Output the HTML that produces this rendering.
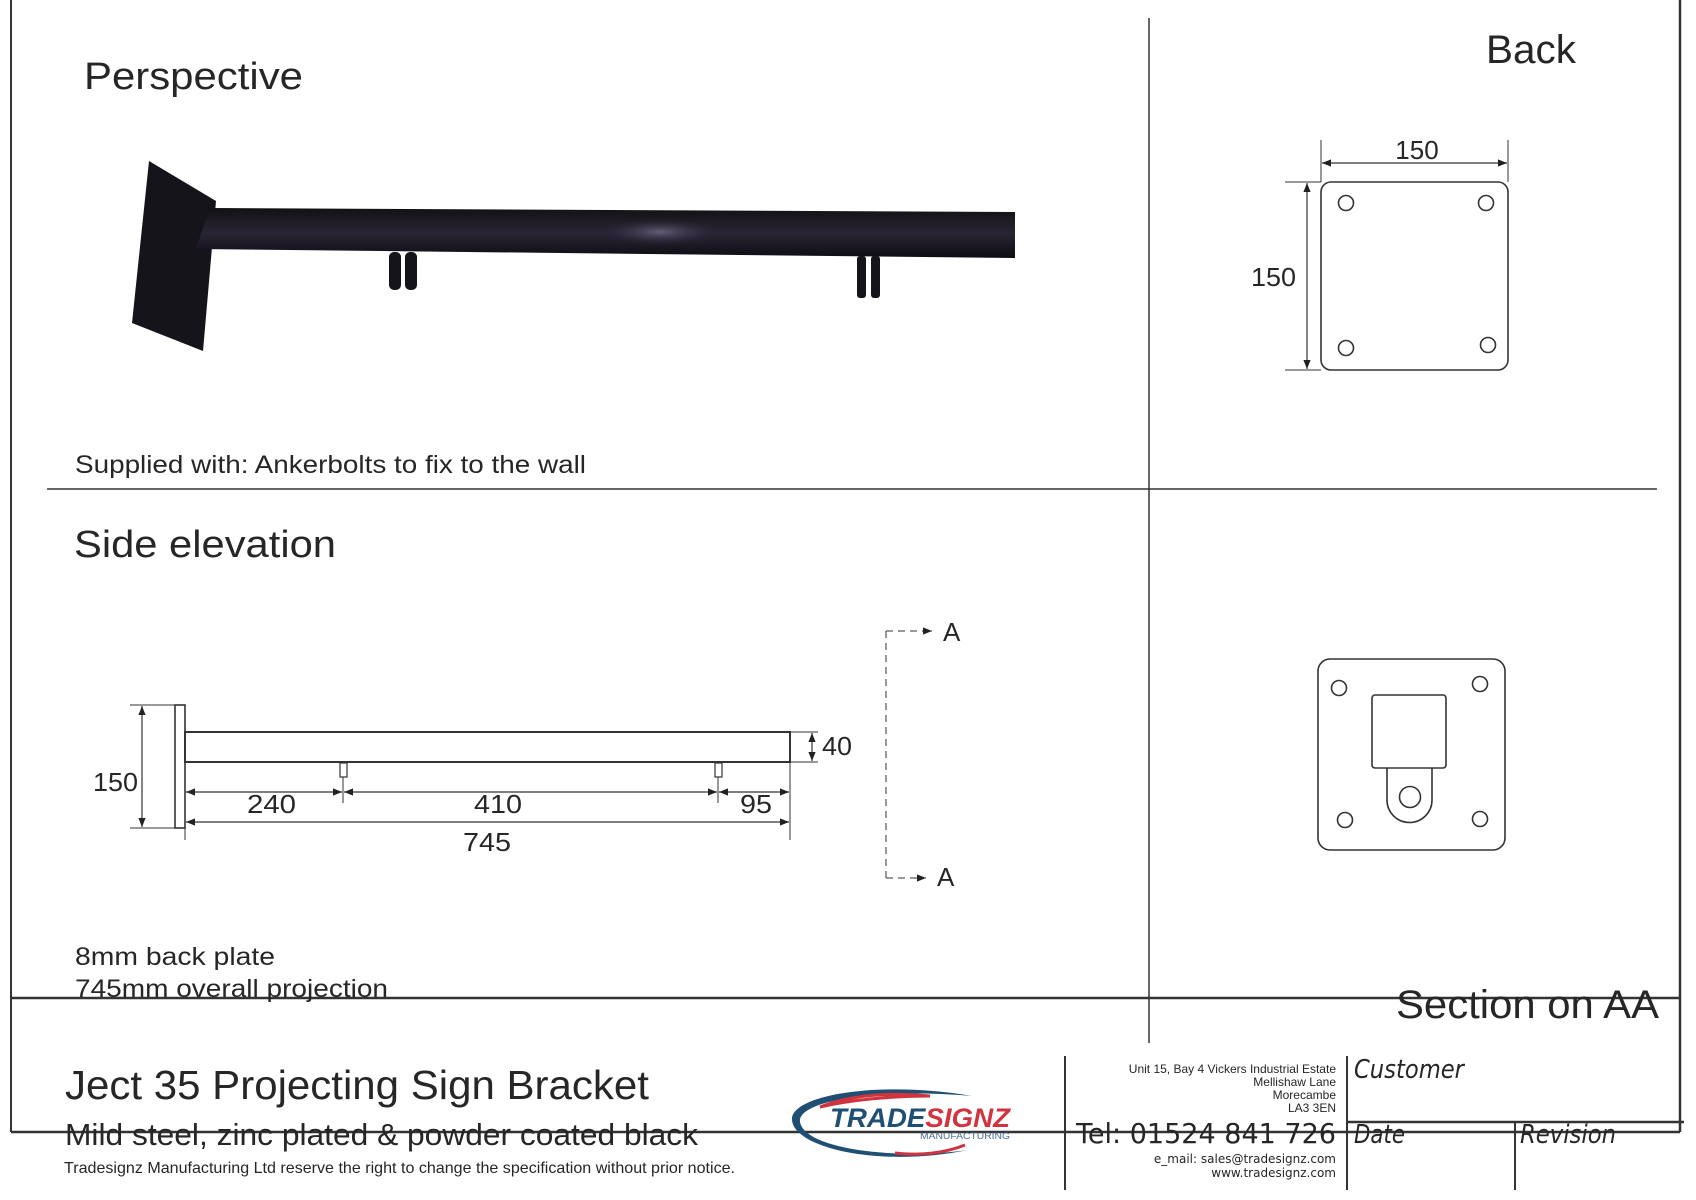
<!DOCTYPE html>
<html><head><meta charset="utf-8"><style>
html,body{margin:0;padding:0;background:#fff;}
svg{display:block;}
text{font-family:"Liberation Sans",Arial,sans-serif;fill:#262626;}
.dv{font-family:"DejaVu Sans",sans-serif;}
</style></head><body>
<svg width="1696" height="1200" viewBox="0 0 1696 1200" xmlns="http://www.w3.org/2000/svg">
<defs>
<marker id="ar" viewBox="0 0 10 10" refX="10" refY="5" markerWidth="9" markerHeight="9" orient="auto-start-reverse" markerUnits="userSpaceOnUse"><path d="M0,1 L10,5 L0,9 z" fill="#222"/></marker>
<linearGradient id="tg" x1="0" y1="0" x2="0" y2="1"><stop offset="0" stop-color="#111"/><stop offset="0.5" stop-color="#2a2535"/><stop offset="1" stop-color="#0d0c12"/></linearGradient>
<radialGradient id="hl" cx="0.5" cy="0.5" r="0.5"><stop offset="0" stop-color="#6a6580" stop-opacity="0.9"/><stop offset="1" stop-color="#2a2535" stop-opacity="0"/></radialGradient>
</defs>
<g stroke="#333" fill="none">
<!-- frame -->
<line x1="11" y1="0" x2="11" y2="1132" stroke-width="2"/>
<line x1="1680" y1="0" x2="1680" y2="1132" stroke-width="2.5"/>
<line x1="11" y1="1132" x2="1680" y2="1132" stroke-width="2.5"/>
<line x1="11" y1="998" x2="1680" y2="998" stroke-width="2.5"/>
<line x1="1149" y1="18" x2="1149" y2="1043" stroke-width="1.5"/>
<line x1="47" y1="489" x2="1657" y2="489" stroke-width="1.5"/>
<line x1="1065" y1="1056" x2="1065" y2="1190" stroke-width="2"/>
<line x1="1347" y1="1056" x2="1347" y2="1190" stroke-width="2"/>
<line x1="1347" y1="1122" x2="1684" y2="1122" stroke-width="2.5"/>
<line x1="1515" y1="1122" x2="1515" y2="1190" stroke-width="2"/>
</g>

<!-- Perspective photo -->
<polygon points="149,161 216,201 203,351 132,323" fill="#16141b"/>
<polygon points="210,208 1015,212 1015,258 196,249" fill="url(#tg)"/>
<ellipse cx="660" cy="232" rx="60" ry="14" fill="url(#hl)"/>
<g fill="#16141b">
<rect x="389" y="252" width="12" height="38" rx="5"/><rect x="405" y="252" width="12" height="38" rx="5"/>
<rect x="857" y="256" width="9" height="42" rx="3"/><rect x="871" y="256" width="9" height="42" rx="3"/>
</g>

<text x="84" y="89" font-size="38" textLength="219" lengthAdjust="spacingAndGlyphs">Perspective</text>
<text x="75" y="473" font-size="25" textLength="511" lengthAdjust="spacingAndGlyphs">Supplied with: Ankerbolts to fix to the wall</text>
<text x="74" y="557" font-size="38" textLength="262" lengthAdjust="spacingAndGlyphs">Side elevation</text>
<text x="1486" y="63" font-size="40" textLength="90" lengthAdjust="spacingAndGlyphs">Back</text>

<!-- Back view -->
<g stroke="#333" fill="none" stroke-width="1.6">
<rect x="1321" y="182" width="187" height="188" rx="10"/>
<circle cx="1346" cy="203" r="7.5"/><circle cx="1486" cy="203" r="7.5"/>
<circle cx="1346" cy="348" r="7.5"/><circle cx="1488" cy="345" r="7.5"/>
<g stroke-width="1">
<line x1="1321" y1="140" x2="1321" y2="182"/><line x1="1508" y1="140" x2="1508" y2="182"/>
<line x1="1285" y1="182" x2="1321" y2="182"/><line x1="1285" y1="370" x2="1321" y2="370"/>
</g>
<line x1="1322" y1="163" x2="1507" y2="163" stroke-width="1.2" marker-start="url(#ar)" marker-end="url(#ar)"/>
<line x1="1307" y1="183" x2="1307" y2="369" stroke-width="1.2" marker-start="url(#ar)" marker-end="url(#ar)"/>
</g>
<text x="1417" y="159" font-size="26" text-anchor="middle">150</text>
<text x="1251" y="286" font-size="26" textLength="45" lengthAdjust="spacingAndGlyphs">150</text>

<!-- Section AA -->
<g stroke="#333" fill="none" stroke-width="1.6">
<rect x="1318" y="659" width="187" height="191" rx="12"/>
<circle cx="1339" cy="688" r="7.5"/><circle cx="1480" cy="684" r="7.5"/>
<circle cx="1345" cy="820" r="7.5"/><circle cx="1480" cy="819" r="7.5"/>
<rect x="1372" y="695" width="74" height="73" rx="3"/>
<path d="M1387,768 L1387,800 A22.5,22.5 0 0 0 1432,800 L1432,768"/>
<circle cx="1410" cy="797" r="10.5"/>
</g>
<text x="1396" y="1018" font-size="40" textLength="263" lengthAdjust="spacingAndGlyphs">Section on AA</text>

<!-- Side elevation -->
<g stroke="#333" fill="none">
<rect x="175" y="705" width="10" height="123" stroke-width="1.6"/>
<rect x="185" y="732" width="605" height="30" stroke-width="2"/>
<rect x="340" y="763" width="7" height="14" stroke-width="1.2"/>
<rect x="715" y="763" width="7" height="14" stroke-width="1.2"/>
<g stroke-width="1">
<line x1="130" y1="705" x2="175" y2="705"/><line x1="130" y1="828" x2="175" y2="828"/>
<line x1="185" y1="828" x2="185" y2="840"/>
<line x1="343" y1="777" x2="343" y2="803"/><line x1="718" y1="777" x2="718" y2="803"/>
<line x1="790" y1="762" x2="790" y2="840"/>
<line x1="790" y1="732" x2="818" y2="732"/><line x1="790" y1="762" x2="818" y2="762"/>
</g>
<g stroke-width="1.2">
<line x1="142" y1="706" x2="142" y2="827" marker-start="url(#ar)" marker-end="url(#ar)"/>
<line x1="186" y1="792" x2="342" y2="792" marker-start="url(#ar)" marker-end="url(#ar)"/>
<line x1="344" y1="792" x2="717" y2="792" marker-start="url(#ar)" marker-end="url(#ar)"/>
<line x1="719" y1="792" x2="789" y2="792" marker-start="url(#ar)" marker-end="url(#ar)"/>
<line x1="186" y1="822" x2="789" y2="822" marker-start="url(#ar)" marker-end="url(#ar)"/>
<line x1="812" y1="733" x2="812" y2="761" marker-start="url(#ar)" marker-end="url(#ar)"/>
</g>
<g stroke-width="1" stroke-dasharray="7,5">
<line x1="886" y1="631" x2="886" y2="878"/>
<line x1="886" y1="631" x2="925" y2="631"/>
<line x1="886" y1="878" x2="920" y2="878"/>
</g>
<line x1="922" y1="631" x2="932" y2="631" stroke-width="1" marker-end="url(#ar)"/>
<line x1="916" y1="878" x2="926" y2="878" stroke-width="1" marker-end="url(#ar)"/>
</g>
<text x="93" y="791" font-size="26" textLength="45" lengthAdjust="spacingAndGlyphs">150</text>
<text x="247" y="813" font-size="26" textLength="49" lengthAdjust="spacingAndGlyphs">240</text>
<text x="474" y="813" font-size="26" textLength="48" lengthAdjust="spacingAndGlyphs">410</text>
<text x="740" y="813" font-size="26" textLength="32" lengthAdjust="spacingAndGlyphs">95</text>
<text x="463" y="851" font-size="26" textLength="48" lengthAdjust="spacingAndGlyphs">745</text>
<text x="822" y="755" font-size="26" textLength="30" lengthAdjust="spacingAndGlyphs">40</text>
<text x="943" y="641" font-size="26">A</text>
<text x="937" y="886" font-size="26">A</text>

<text x="75" y="965" font-size="25" textLength="200" lengthAdjust="spacingAndGlyphs">8mm back plate</text>
<text x="75" y="997" font-size="25" textLength="313" lengthAdjust="spacingAndGlyphs">745mm overall projection</text>

<!-- Title block -->
<text x="65" y="1099" font-size="41" textLength="584" lengthAdjust="spacingAndGlyphs">Ject 35 Projecting Sign Bracket</text>
<text x="65" y="1145" font-size="31" textLength="633" lengthAdjust="spacingAndGlyphs">Mild steel, zinc plated &amp; powder coated black</text>
<text x="64" y="1173" font-size="16" textLength="671" lengthAdjust="spacingAndGlyphs">Tradesignz Manufacturing Ltd reserve the right to change the specification without prior notice.</text>

<!-- Logo -->
<path d="M972,1096 C880,1080 790,1095 792,1120 C794,1148 880,1168 968,1150 C900,1160 805,1150 800,1122 C797,1100 880,1088 972,1096 z" fill="#1f4f72"/>
<path d="M820,1107 C850,1095 890,1092 930,1096 C890,1096 850,1100 820,1107 z" stroke="#d0343f" stroke-width="3" fill="none"/>
<path d="M895,1153 C920,1156 945,1153 965,1145" stroke="#d0343f" stroke-width="3" fill="none"/>
<text x="830" y="1127" font-size="27" font-weight="bold" font-style="italic" textLength="180" lengthAdjust="spacingAndGlyphs"><tspan fill="#1f4f72">TRADE</tspan><tspan fill="#d0343f">SIGNZ</tspan></text>
<text x="920" y="1139" font-size="9" fill="#1f4f72" style="fill:#4a6f90" textLength="90" lengthAdjust="spacingAndGlyphs">MANUFACTURING</text>

<g font-size="12" text-anchor="end">
<text x="1336" y="1073">Unit 15, Bay 4 Vickers Industrial Estate</text>
<text x="1336" y="1086">Mellishaw Lane</text>
<text x="1336" y="1099">Morecambe</text>
<text x="1336" y="1112">LA3 3EN</text>
</g>
<text class="dv" x="1076" y="1143" font-size="28" textLength="260" lengthAdjust="spacingAndGlyphs">Tel: 01524 841 726</text>
<text class="dv" x="1336" y="1163" font-size="12" text-anchor="end">e_mail: sales@tradesignz.com</text>
<text class="dv" x="1336" y="1177" font-size="12" text-anchor="end">www.tradesignz.com</text>
<text class="dv" x="1354" y="1078" font-size="26" font-style="italic" textLength="110" lengthAdjust="spacingAndGlyphs">Customer</text>
<text class="dv" x="1354" y="1143" font-size="26" font-style="italic" textLength="51" lengthAdjust="spacingAndGlyphs">Date</text>
<text class="dv" x="1520" y="1143" font-size="26" font-style="italic" textLength="96" lengthAdjust="spacingAndGlyphs">Revision</text>
</svg>
</body></html>
